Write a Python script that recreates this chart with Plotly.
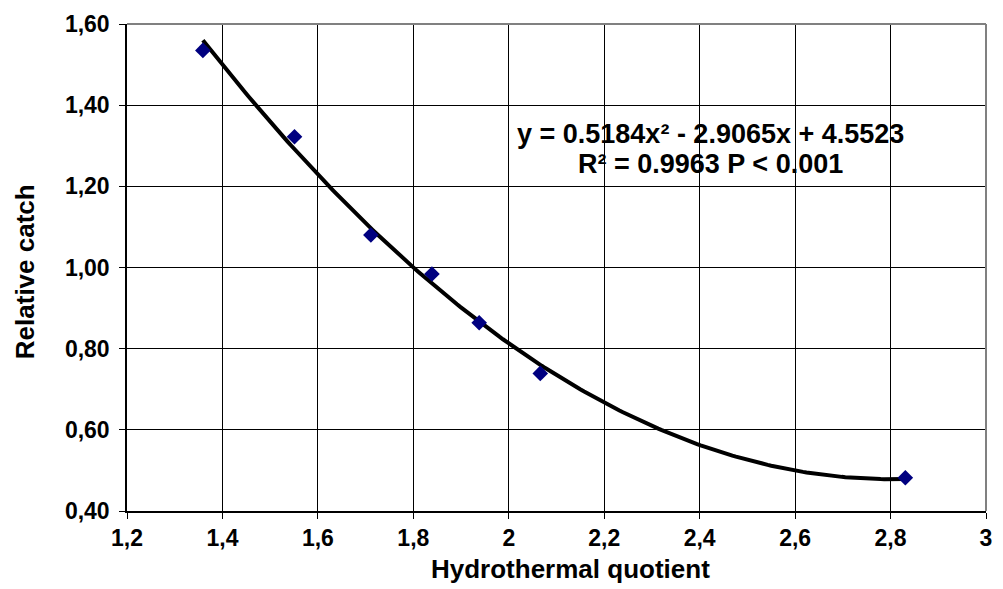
import numpy as np
import plotly.graph_objects as go

# Observed relative catch versus hydrothermal quotient
hq = [1.359, 1.551, 1.711, 1.839, 1.938, 2.066, 2.831]
catch = [1.535, 1.322, 1.080, 0.984, 0.864, 0.739, 0.482]

# Second-order polynomial trend coefficients (a*x^2 + b*x + c)
coef = [0.5184, -2.9065, 4.5523]

x_ticks = [1.2, 1.4, 1.6, 1.8, 2.0, 2.2, 2.4, 2.6, 2.8, 3.0]
x_labels = ["1,2", "1,4", "1,6", "1,8", "2", "2,2", "2,4", "2,6", "2,8", "3"]
y_ticks = [0.40, 0.60, 0.80, 1.00, 1.20, 1.40, 1.60]
y_labels = ["0,40", "0,60", "0,80", "1,00", "1,20", "1,40", "1,60"]

eq_line1 = "y = 0.5184x² - 2.9065x + 4.5523"
eq_line2 = "R² = 0.9963 P < 0.001"

xs = np.linspace(min(hq), max(hq), 200)
ys = np.polyval(coef, xs)

FONT = "Liberation Sans, Arial, sans-serif"
W, H = 1003, 589
ML, MR, MT, MB = 127, 11, 23, 78
PW, PH = W - ML - MR, H - MT - MB


def px_x(px):
    return (px - ML) / PW


def px_y(py):
    return 1 - (py - MT) / PH


fig = go.Figure()
fig.add_trace(go.Scatter(
    x=xs, y=ys, mode="lines",
    line=dict(color="black", width=4),
    hoverinfo="skip", showlegend=False,
))
fig.add_trace(go.Scatter(
    x=hq, y=catch, mode="markers",
    marker=dict(symbol="diamond", size=12, color="#000080"),
    showlegend=False,
))

tick_font = dict(family=FONT, size=23, color="black")
fig.update_layout(
    width=W, height=H,
    margin=dict(l=ML, r=MR, t=MT, b=MB),
    paper_bgcolor="white", plot_bgcolor="white",
    font=dict(family=FONT, color="black", size=15),
    xaxis=dict(
        range=[1.2, 3.0], tickvals=x_ticks,
        ticktext=[f"<b>{t}</b>" for t in x_labels],
        showgrid=True, gridcolor="black", gridwidth=1,
        showline=True, linecolor="black", linewidth=1.5,
        ticks="outside", ticklen=6, tickcolor="black",
        tickfont=tick_font, zeroline=False,
    ),
    yaxis=dict(
        range=[0.40, 1.60], tickvals=y_ticks,
        ticktext=[f"<b>{t}</b>" for t in y_labels],
        showgrid=True, gridcolor="black", gridwidth=1,
        showline=True, linecolor="black", linewidth=1.5,
        ticks="outside", ticklen=6, tickcolor="black",
        ticklabelstandoff=5,
        tickfont=tick_font, zeroline=False,
    ),
    shapes=[
        dict(type="line", xref="paper", yref="paper", x0=0, x1=1, y0=1, y1=1,
             line=dict(color="#808080", width=2)),
        dict(type="line", xref="paper", yref="paper", x0=1, x1=1, y0=0, y1=1,
             line=dict(color="#808080", width=2)),
    ],
    annotations=[
        dict(x=px_x(715), y=px_y(133), xref="paper", yref="paper",
             text=f"<b>{eq_line1}</b>", showarrow=False,
             xanchor="center", yanchor="middle",
             font=dict(family=FONT, size=27, color="black")),
        dict(x=px_x(715), y=px_y(163), xref="paper", yref="paper",
             text=f"<b>{eq_line2}</b>", showarrow=False,
             xanchor="center", yanchor="middle",
             font=dict(family=FONT, size=27, color="black")),
        dict(x=px_x(574), y=px_y(569), xref="paper", yref="paper",
             text="<b>Hydrothermal quotient</b>", showarrow=False,
             xanchor="center", yanchor="middle",
             font=dict(family=FONT, size=26, color="black")),
        dict(x=px_x(25), y=px_y(271), xref="paper", yref="paper",
             text="<b>Relative catch</b>", showarrow=False, textangle=-90,
             xanchor="center", yanchor="middle",
             font=dict(family=FONT, size=26, color="black")),
    ],
)

fig.write_html("out.html")
